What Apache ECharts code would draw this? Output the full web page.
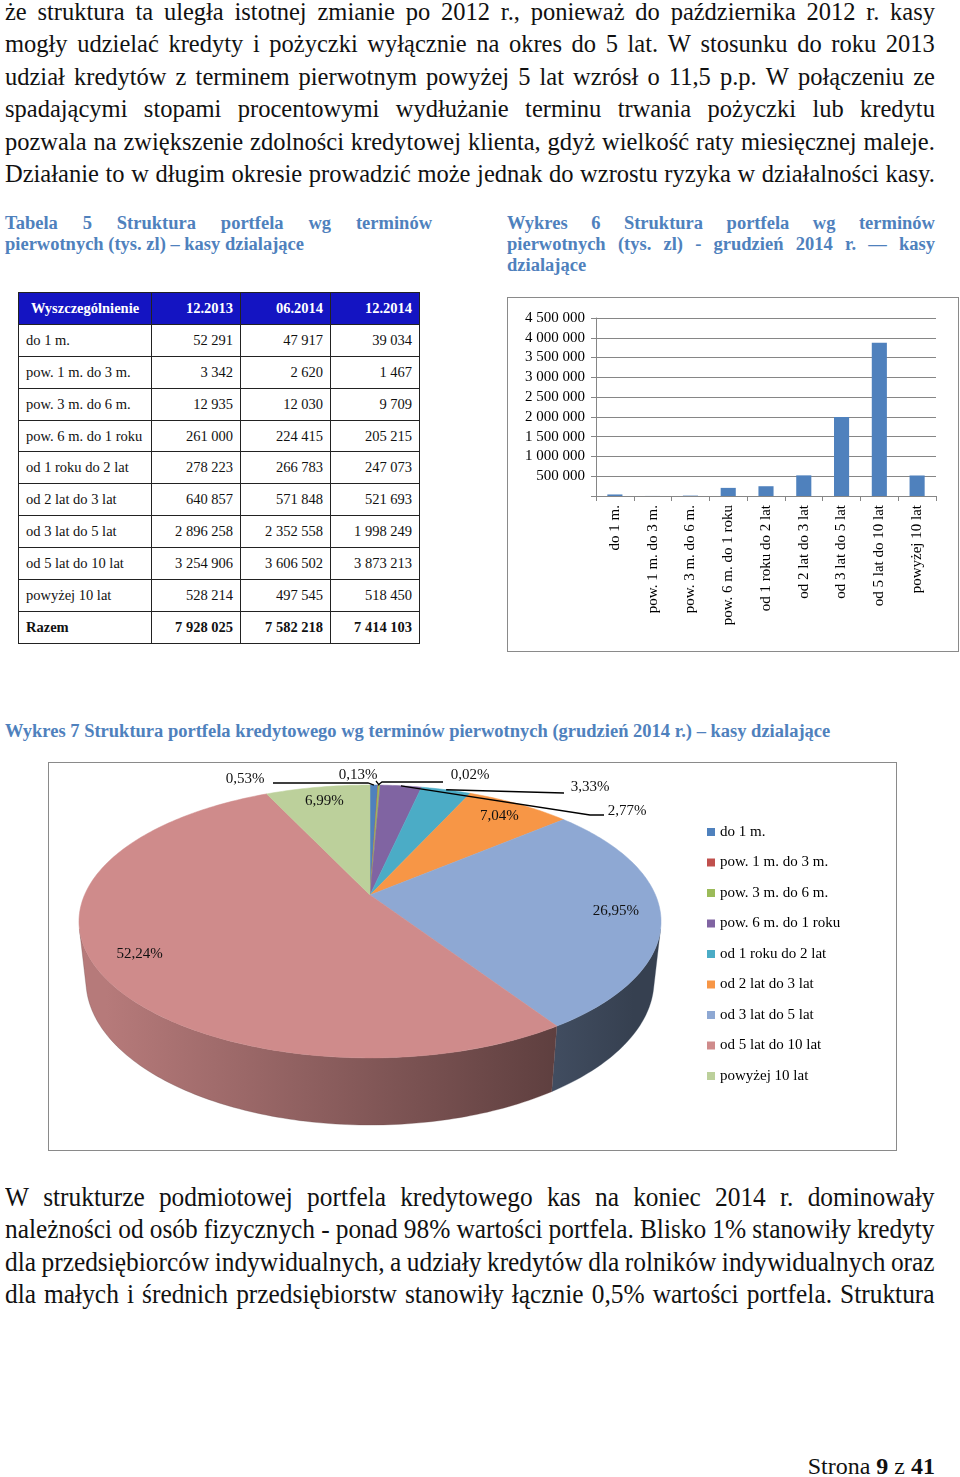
<!DOCTYPE html>
<html><head><meta charset="utf-8">
<script src="https://cdn.jsdelivr.net/npm/echarts@6/dist/echarts.min.js"></script>
<style>
html,body{margin:0;padding:0;background:#fff;}
body{width:960px;height:1477px;position:relative;overflow:hidden;font-family:"Liberation Serif","DejaVu Serif",serif;color:#111;}
.jl{display:flex;justify-content:space-between;white-space:nowrap;}
.ll{white-space:nowrap;}
.para{position:absolute;left:5px;width:930px;font-size:24.5px;font-family:"Liberation Serif",serif;}
.para div{height:32.5px;line-height:32.5px;}
.cap{position:absolute;font-weight:bold;color:#4F81BD;font-size:18.5px;font-family:"Liberation Serif",serif;}
.cap div{height:21px;line-height:21px;}
#tbl{position:absolute;left:18px;top:292px;border-collapse:collapse;font-size:14.5px;table-layout:fixed;font-family:"Liberation Serif",serif;}
#tbl td{border:1px solid #222;height:30.9px;padding:0 7px;white-space:nowrap;}
#tbl td.n{text-align:right;}
#tbl tr.h td{background:#1414c2;color:#fff;font-weight:bold;font-size:14.5px;}
#tbl tr.tot td{font-weight:bold;}
.box{position:absolute;border:1.5px solid #8a8a8a;box-sizing:border-box;pointer-events:none;}
</style></head>
<body>
<div id="p1" class="para" style="top:-4.25px"></div>
<div id="c1" class="cap" style="left:5px;top:212.5px;width:427px"></div>
<div id="c2" class="cap" style="left:507px;top:212.5px;width:428px"></div>
<table id="tbl"></table>
<div id="bar" style="position:absolute;left:507px;top:297px;width:452px;height:355px"></div>
<div class="box" style="left:507px;top:297px;width:452px;height:355px"></div>
<div id="c3" class="cap" style="left:5px;top:720.5px;width:900px"></div>
<div id="pie" style="position:absolute;left:48px;top:762px;width:849px;height:389px"></div>
<div class="box" style="left:48px;top:762px;width:849px;height:389px"></div>
<div id="p2" class="para" style="top:1180.6px;width:989px;font-size:27px;transform:scaleX(0.94);transform-origin:0 0"></div>
<div style="position:absolute;right:25px;top:1451px;font-size:24px;line-height:30px;white-space:nowrap;font-family:'Liberation Serif',serif">Strona <b>9</b> z <b>41</b></div>
<script>
// ---------- data ----------
const categories = ['do 1 m.','pow. 1 m. do 3 m.','pow. 3 m. do 6 m.','pow. 6 m. do 1 roku','od 1 roku do 2 lat','od 2 lat do 3 lat','od 3 lat do 5 lat','od 5 lat do 10 lat','powyżej 10 lat'];
const tableHeader = ['Wyszczególnienie','12.2013','06.2014','12.2014'];
const values2013_12 = [52291,3342,12935,261000,278223,640857,2896258,3254906,528214];
const values2014_06 = [47917,2620,12030,224415,266783,571848,2352558,3606502,497545];
const values2014_12 = [39034,1467,9709,205215,247073,521693,1998249,3873213,518450];
const totalsLabel = 'Razem';
const totals = [7928025,7582218,7414103];
const yTicks = {min:0,max:4500000,interval:500000};

// ---------- text ----------
const para1 = [
 'że struktura ta uległa istotnej zmianie po 2012 r., ponieważ do października 2012 r. kasy',
 'mogły udzielać kredyty i pożyczki wyłącznie na okres do 5 lat. W stosunku do roku 2013',
 'udział kredytów z terminem pierwotnym powyżej 5 lat wzrósł o 11,5 p.p. W połączeniu ze',
 'spadającymi stopami procentowymi wydłużanie terminu trwania pożyczki lub kredytu',
 'pozwala na zwiększenie zdolności kredytowej klienta, gdyż wielkość raty miesięcznej maleje.',
 'Działanie to w długim okresie prowadzić może jednak do wzrostu ryzyka w działalności kasy.'];
const para2 = [
 'W strukturze podmiotowej portfela kredytowego kas na koniec 2014 r. dominowały',
 'należności od osób fizycznych - ponad 98% wartości portfela. Blisko 1% stanowiły kredyty',
 'dla przedsiębiorców indywidualnych, a udziały kredytów dla rolników indywidualnych oraz',
 'dla małych i średnich przedsiębiorstw stanowiły łącznie 0,5% wartości portfela. Struktura'];
const cap1 = [['Tabela 5 Struktura portfela wg terminów',1],['pierwotnych (tys. zl) – kasy dzialające',0]];
const cap2 = [['Wykres 6 Struktura portfela wg terminów',1],['pierwotnych (tys. zl) - grudzień 2014 r. — kasy',1],['dzialające',0]];
const cap3 = [['Wykres 7 Struktura portfela kredytowego wg terminów pierwotnych (grudzień 2014 r.) – kasy dzialające',0]];

function fillLines(id, lines){
  const el = document.getElementById(id);
  lines.forEach(l=>{
    const txt = Array.isArray(l)?l[0]:l, just = Array.isArray(l)?l[1]:1;
    const d = document.createElement('div');
    if(just){ d.className='jl'; txt.split(' ').forEach(w=>{const s=document.createElement('span'); s.textContent=w; d.appendChild(s);}); }
    else { d.className='ll'; d.textContent=txt; }
    el.appendChild(d);
  });
}
fillLines('p1',para1); fillLines('p2',para2);
fillLines('c1',cap1); fillLines('c2',cap2); fillLines('c3',cap3);

function fmt(v){ return String(v).replace(/\B(?=(\d{3})+(?!\d))/g,' '); }

// ---------- table ----------
(function(){
  const t = document.getElementById('tbl');
  const widths=[133,89,90,89];
  const cg=document.createElement('colgroup');
  widths.forEach(w=>{const c=document.createElement('col'); c.style.width=w+'px'; cg.appendChild(c);});
  t.appendChild(cg);
  const addRow=(cells,cls)=>{
    const tr=document.createElement('tr'); if(cls) tr.className=cls;
    cells.forEach((c,i)=>{const td=document.createElement('td'); td.textContent=c; if(i>0) td.className='n'; if(cls==='h'&&i===0) td.style.textAlign='center'; tr.appendChild(td);});
    t.appendChild(tr);
  };
  addRow(tableHeader,'h');
  categories.forEach((c,i)=>addRow([c,fmt(values2013_12[i]),fmt(values2014_06[i]),fmt(values2014_12[i])]));
  addRow([totalsLabel].concat(totals.map(fmt)),'tot');
})();

const FONT = 'Liberation Serif';
// ---------- bar chart ----------
const bar = echarts.init(document.getElementById('bar'));
bar.setOption({
  animation:false,
  grid:{left:89,top:21,right:23,bottom:156},
  xAxis:{type:'category',data:categories,
    axisLine:{lineStyle:{color:'#868686',width:1}},
    axisTick:{show:true,alignWithLabel:false,length:5,lineStyle:{color:'#868686'}},
    axisLabel:{rotate:90,margin:9,fontSize:15,fontFamily:FONT,color:'#000',interval:0}},
  yAxis:{type:'value',min:yTicks.min,max:yTicks.max,interval:yTicks.interval,
    axisLine:{show:true,lineStyle:{color:'#868686'}},
    axisTick:{show:true,length:5,lineStyle:{color:'#868686'}},
    splitLine:{lineStyle:{color:'#868686',width:1}},
    axisLabel:{margin:11,fontSize:15,fontFamily:FONT,color:'#000',formatter:v=>v===0?'':fmt(v)}},
  series:[{type:'bar',data:values2014_12,barWidth:'40%',itemStyle:{color:'#4F81BD'}}]
});

// ---------- 3D pie ----------
const pieColors = ['#4F81BD','#C0504D','#9BBB59','#8064A2','#4BACC6','#F79646','#8EA8D3','#CF8B8B','#BCD09B'];
const total = values2014_12.reduce((a,b)=>a+b,0);
const cum=[]; (function(){let a=0; values2014_12.forEach(v=>{cum.push(a); a+=v;});})();
const pctLabel = i => (values2014_12[i]/total*100).toFixed(2).replace('.',',')+'%';
// projection parameters (view geometry, not data)
const P = {ax:322, ay:133, f:1306.6, R:0.2185, se:0.46, ce:0.888, h:0.0513};
const phiOf = frac => (90 - frac*360)*Math.PI/180;
function proj(r,phi,yw){
  const X=r*P.R*Math.cos(phi), Z=r*P.R*Math.sin(phi);
  const depth = 1 - yw*P.se + Z*P.ce;
  return [P.ax + X*P.f/depth, P.ay - (yw*P.ce + Z*P.se)*P.f/depth];
}
function arc(p1,p2,yw){
  const n=Math.max(2,Math.ceil(Math.abs(p2-p1)/(Math.PI/180)));
  const pts=[]; for(let k=0;k<=n;k++){pts.push(proj(1,p1+(p2-p1)*k/n,yw));} return pts;
}
const tanS = Math.asin(-P.R/P.ce);
const visHi = tanS, visLo = -Math.PI - tanS;
function shade(hex,f){const n=parseInt(hex.slice(1),16);const r=Math.round(((n>>16)&255)*f),g=Math.round(((n>>8)&255)*f),b=Math.round((n&255)*f);return 'rgb('+r+','+g+','+b+')';}
const leftX = proj(1,Math.PI+tanS,0)[0], rightX = proj(1,-tanS,0)[0];

// label layout for small slices (text centre and leader elbow points, chart px)
const outsideLabels = {
  0:{text:[197,17],line:[[225,21],[320,21]]},
  1:{text:[422,13],line:[[395,20],[334,20]]},
  2:{text:[310,13],line:[[328,19]]},
  3:{text:[579,49],line:[[556,53],[542,53]]},
  4:{text:[542,25],line:[[516,31]]}
};

function sliceAngles(i){ return [phiOf(cum[i]/total), phiOf((cum[i]+values2014_12[i])/total)]; }

const pieData = values2014_12.map((v,i)=>({name:categories[i],value:v,itemStyle:{color:pieColors[i]}}));
const pie = echarts.init(document.getElementById('pie'));
pie.setOption({
  animation:false,
  legend:{orient:'vertical',left:654,top:57,itemWidth:8,itemHeight:8,itemGap:14.5,icon:'rect',
    data:categories,textStyle:{fontFamily:FONT,fontSize:15,color:'#000',lineHeight:16},selectedMode:false},
  series:[
    {type:'pie',radius:[0,0],center:[700,350],data:pieData,label:{show:false},labelLine:{show:false},silent:true,emphasis:{disabled:true}},
    {type:'custom',coordinateSystem:'none',data:values2014_12,z:1,silent:true,
     renderItem:function(params,api){
       const i=params.dataIndex; const [ps,pe]=sliceAngles(i);
       const hi=Math.min(ps,visHi), lo=Math.max(pe,visLo);
       if(!(lo<hi)) return {type:'group',children:[]};
       const pts=arc(hi,lo,0).concat(arc(lo,hi,-P.h));
       return {type:'polygon',shape:{points:pts},style:{
         fill:new echarts.graphic.LinearGradient(leftX,0,rightX,0,[{offset:0,color:shade(pieColors[i],0.88)},{offset:1,color:shade(pieColors[i],0.38)}],true),
         stroke:shade(pieColors[i],0.5),lineWidth:0.3}};
     }},
    {type:'custom',coordinateSystem:'none',data:values2014_12,z:2,silent:true,
     renderItem:function(params,api){
       const i=params.dataIndex; const [ps,pe]=sliceAngles(i);
       const pts=[[P.ax,P.ay]].concat(arc(ps,pe,0));
       return {type:'polygon',shape:{points:pts},style:{fill:pieColors[i],stroke:pieColors[i],lineWidth:0.5}};
     }},
    {type:'custom',coordinateSystem:'none',data:values2014_12,z:3,silent:true,
     renderItem:function(params,api){
       const i=params.dataIndex; const [ps,pe]=sliceAngles(i); const mid=(ps+pe)/2;
       const ts={text:pctLabel(i),fill:'#111',fontFamily:FONT,fontSize:15,align:'center',verticalAlign:'middle'};
       const L=outsideLabels[i];
       if(!L){ const p=proj(0.85,mid,0); return {type:'text',x:p[0],y:p[1],style:ts}; }
       const edge=proj(1,mid,0);
       return {type:'group',children:[
         {type:'polyline',shape:{points:L.line.concat([edge])},style:{stroke:'#000',lineWidth:1.3,fill:null}},
         {type:'text',x:L.text[0],y:L.text[1],style:ts}]};
     }}
  ]
});
</script>
</body></html>
